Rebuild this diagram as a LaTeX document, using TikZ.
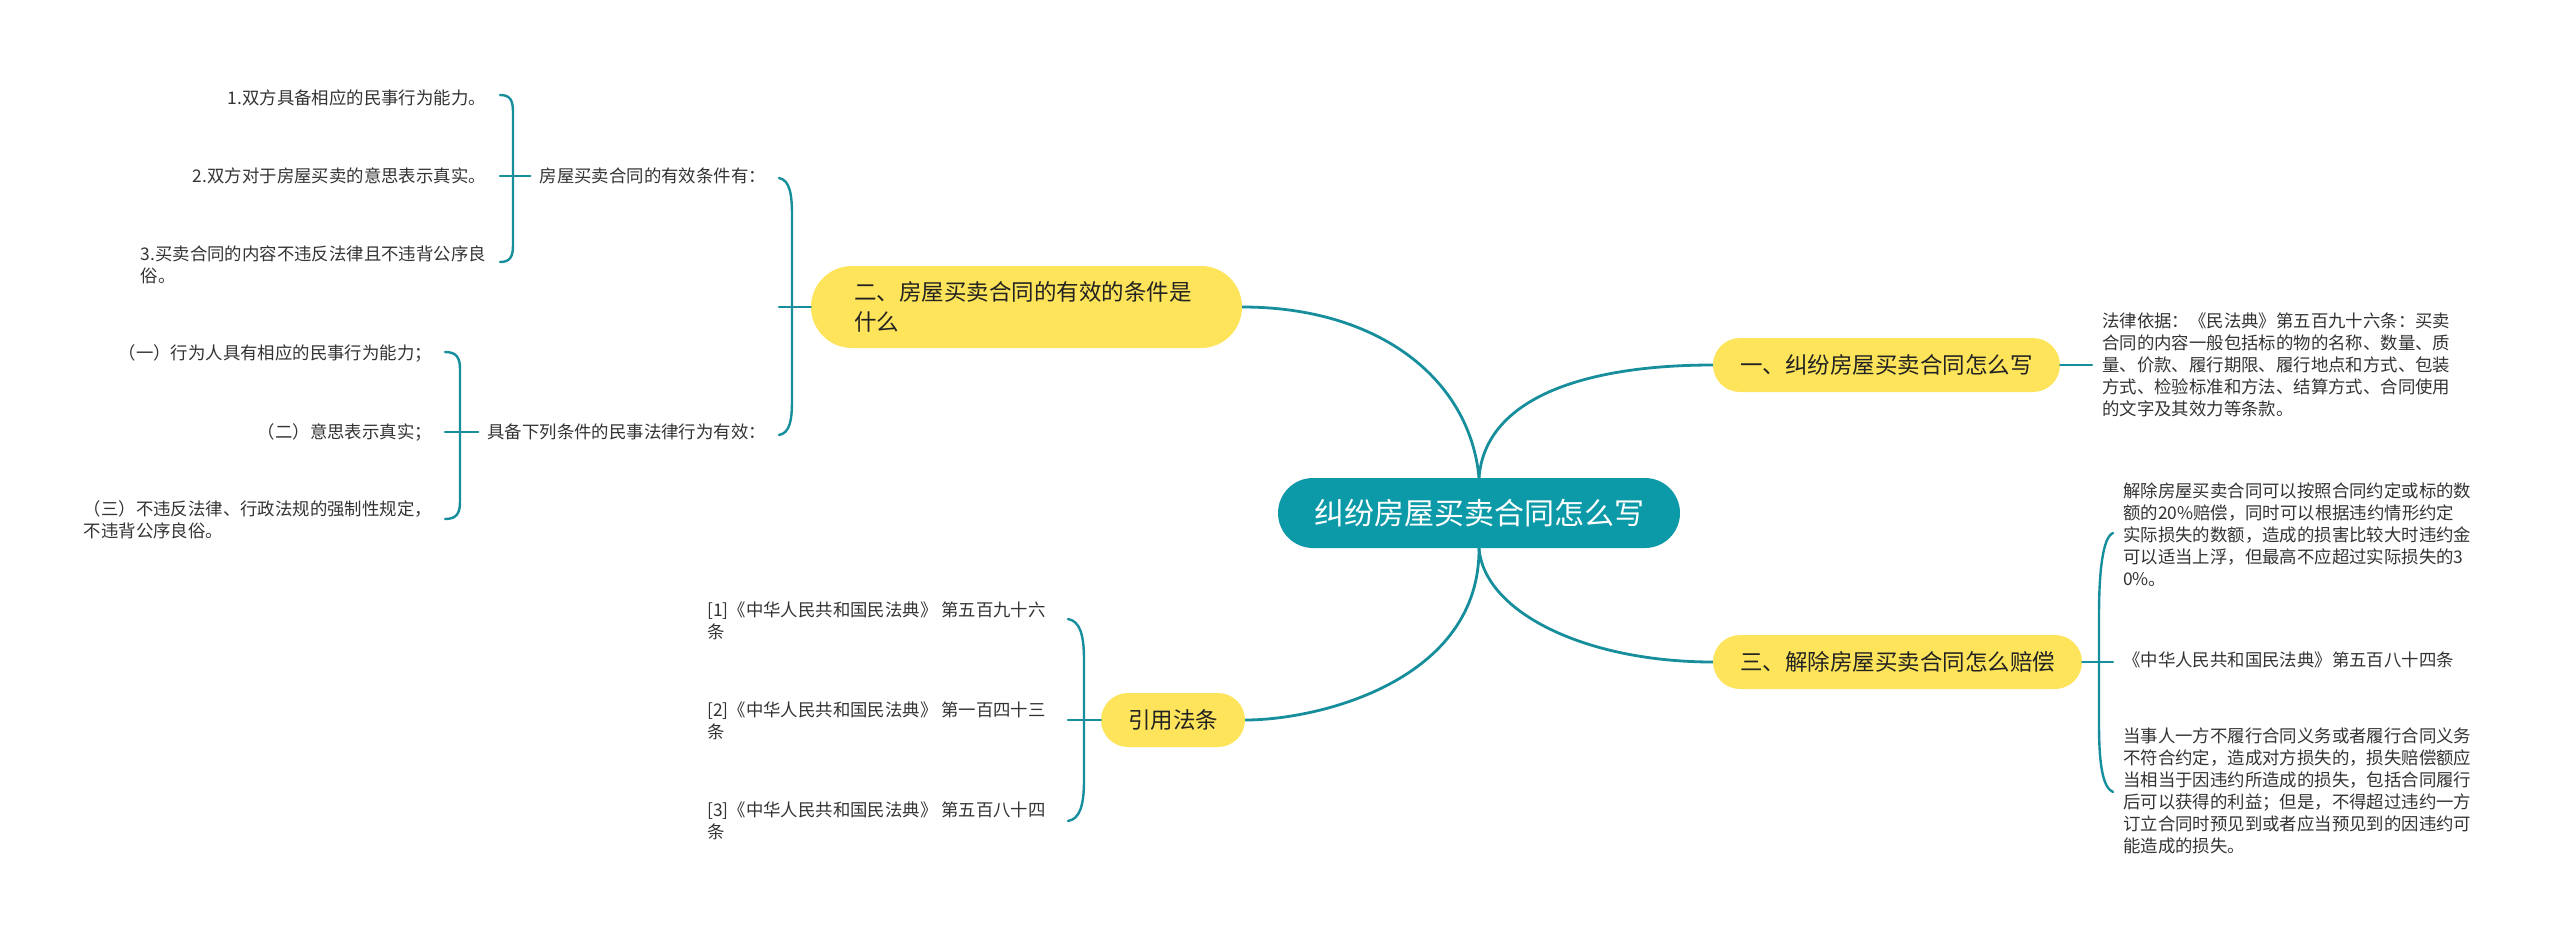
\documentclass[tikz,border=0pt]{standalone}
\usepackage{fontspec}
\setmainfont{Noto Sans CJK SC}
\definecolor{branch}{HTML}{178E9B}
\definecolor{rootfill}{HTML}{0D9AA8}
\definecolor{yel}{HTML}{FDE45B}
\definecolor{txt}{HTML}{333333}
\definecolor{txtdark}{HTML}{222222}
\tikzset{
  conn/.style={draw=branch, line width=2.8pt},
  brace/.style={draw=branch, line width=2.4pt, line cap=round},
  rootnode/.style={fill=rootfill, text=white, rounded corners=35pt, minimum width=402pt, minimum height=70pt, inner sep=0pt, font=\fontsize{30}{36}\selectfont},
  topic/.style={fill=yel, text=txtdark, rounded corners=27pt, minimum height=54pt, inner xsep=27pt, inner ysep=0pt, font=\fontsize{22.5}{30}\selectfont},
  leaf/.style={inner sep=0pt, text=txt, font=\fontsize{17.4}{22}\selectfont},
}
\begin{document}
\begin{tikzpicture}[x=1pt,y=-1pt]
\useasboundingbox (0,0) rectangle (2560,943);

% root and main topics
\node[rootnode] (root) at (1479,513) {纠纷房屋买卖合同怎么写};
\node[topic, minimum width=347pt] (n1) at (1886.5,365) {一、纠纷房屋买卖合同怎么写};
\node[topic, minimum width=369pt] (n3) at (1897.5,662) {三、解除房屋买卖合同怎么赔偿};
\node[topic, minimum width=141pt] (n4) at (1173,720) {引用法条};
\node[topic, minimum height=82pt, rounded corners=41pt, text width=345pt, align=left, inner xsep=43pt] (n2) at (1026.5,307) {二、房屋买卖合同的有效的条件是\\什么};

% main branches
\draw[conn] (root.north) .. controls (1485,400) and (1580,365) .. (n1.west);
\draw[conn] (root.north) .. controls (1470,380) and (1380,307) .. (n2.east);
\draw[conn] (root.south) .. controls (1484,612) and (1585,662) .. (n3.west);
\draw[conn] (root.south) .. controls (1480,680) and (1320,720) .. (n4.east);

% right: topic 1
\node[leaf, anchor=west, align=left, inner xsep=10pt] (t1) at (2092,365) {法律依据：《民法典》第五百九十六条：买卖\\合同的内容一般包括标的物的名称、数量、质\\量、价款、履行期限、履行地点和方式、包装\\方式、检验标准和方法、结算方式、合同使用\\的文字及其效力等条款。};
\draw[brace] (n1.east) -- (t1.west);

% right: topic 3
\node[leaf, anchor=west, align=left] (c1) at (2123,535) {解除房屋买卖合同可以按照合同约定或标的数\\额的20\%赔偿，同时可以根据违约情形约定\\实际损失的数额，造成的损害比较大时违约金\\可以适当上浮，但最高不应超过实际损失的3\\0\%。};
\node[leaf, anchor=west] (c2) at (2123,660) {《中华人民共和国民法典》第五百八十四条};
\node[leaf, anchor=west, align=left] (c3) at (2123,791) {当事人一方不履行合同义务或者履行合同义务\\不符合约定，造成对方损失的，损失赔偿额应\\当相当于因违约所造成的损失，包括合同履行\\后可以获得的利益；但是，不得超过违约一方\\订立合同时预见到或者应当预见到的因违约可\\能造成的损失。};
\coordinate (b3t) at (2113,533);
\coordinate (b3b) at (2113,792);
\draw[brace] (b3t) .. controls (2103,537) and (2099,570) .. (2099,615) -- (2099,725) .. controls (2099,765) and (2103,788) .. (b3b);
\draw[brace] (n3.east) -- (n3.east -| b3t);

% left: topic 2
\node[leaf, anchor=east, inner xsep=9pt] (p1) at (775,176) {房屋买卖合同的有效条件有：};
\node[leaf, anchor=east, inner xsep=9pt] (p2) at (775,432) {具备下列条件的民事法律行为有效：};
\coordinate (b2t) at (779,178);
\coordinate (b2b) at (779,435);
\draw[brace] (b2t) .. controls (790,180) and (792,195) .. (792,215) -- (792,400) .. controls (792,420) and (790,433) .. (b2b);
\draw[brace] (n2.west) -- (n2.west -| b2t);

\node[leaf, anchor=east] (a1) at (486,98) {1.双方具备相应的民事行为能力。};
\node[leaf, anchor=east] (a2) at (486,176) {2.双方对于房屋买卖的意思表示真实。};
\node[leaf, anchor=east, align=left] (a3) at (486,265) {3.买卖合同的内容不违反法律且不违背公序良\\俗。};
\coordinate (bAt) at (500,95);
\coordinate (bAb) at (500,262);
\draw[brace] (bAt) .. controls (510,95) and (513,100) .. (513,112) -- (513,245) .. controls (513,257) and (510,262) .. (bAb);
\draw[brace] (p1.west) -- (p1.west -| bAt);

\node[leaf, anchor=east] (q1) at (432,353) {（一）行为人具有相应的民事行为能力；};
\node[leaf, anchor=east] (q2) at (432,432) {（二）意思表示真实；};
\node[leaf, anchor=east, align=left] (q3) at (432,520) {（三）不违反法律、行政法规的强制性规定，\\不违背公序良俗。};
\coordinate (bBt) at (445,352);
\coordinate (bBb) at (445,519);
\draw[brace] (bBt) .. controls (456,352) and (460,357) .. (460,369) -- (460,502) .. controls (460,514) and (456,519) .. (bBb);
\draw[brace] (p2.west) -- (p2.west -| bBt);

% left: references
\node[leaf, anchor=west, align=left] (r1) at (707,621) {[1]《中华人民共和国民法典》 第五百九十六\\条};
\node[leaf, anchor=west, align=left] (r2) at (707,721) {[2]《中华人民共和国民法典》 第一百四十三\\条};
\node[leaf, anchor=west, align=left] (r3) at (707,821) {[3]《中华人民共和国民法典》 第五百八十四\\条};
\coordinate (bRt) at (1068,619);
\coordinate (bRb) at (1068,821);
\draw[brace] (bRt) .. controls (1080,621) and (1084,635) .. (1084,660) -- (1084,780) .. controls (1084,805) and (1080,819) .. (bRb);
\draw[brace] (n4.west) -- (n4.west -| bRt);
\end{tikzpicture}
\end{document}
